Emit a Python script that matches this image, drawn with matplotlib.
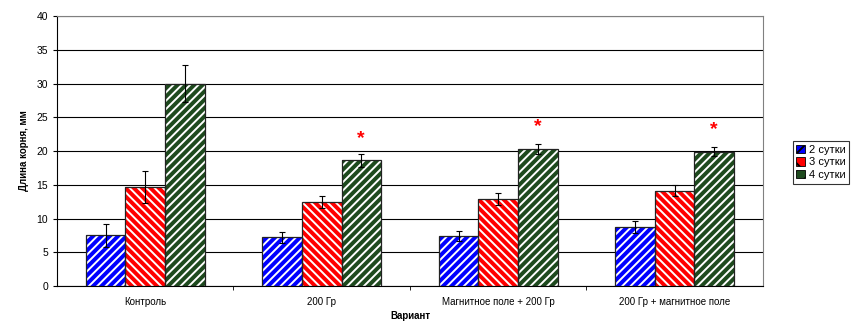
import matplotlib
matplotlib.use('Agg')
import matplotlib.pyplot as plt
import numpy as np

plt.rcParams['font.family'] = ['Liberation Sans', 'DejaVu Sans']
plt.rcParams['hatch.linewidth'] = 1.4

categories = ['Контроль', '200 Гр', 'Магнитное поле + 200 Гр', '200 Гр + магнитное поле']
series = ['2 сутки', '3 сутки', '4 сутки']
day2 = [7.5, 7.2, 7.4, 8.7]
day3 = [14.7, 12.5, 12.9, 14.1]
day4 = [30.0, 18.6, 20.3, 19.9]
err2 = [1.7, 0.8, 0.8, 0.9]
err3 = [2.4, 0.9, 0.9, 0.8]
err4 = [2.7, 0.9, 0.8, 0.7]
significant = [False, True, True, True]

colors = ['#0000ff', '#ff0000', '#1e4a1e']
hatches = ['////', '\\\\\\\\', '////']

fig = plt.figure(figsize=(8.52, 3.21), dpi=100)
ax = fig.add_axes([0.0669, 0.109, 0.8286, 0.841])

x = np.arange(len(categories))
w = 0.224
values = [day2, day3, day4]
errors = [err2, err3, err4]

for k in range(3):
    pos = x + (k - 1) * w
    # coloured face with white hatch, then a separate outline
    ax.bar(pos, values[k], w, facecolor=colors[k], edgecolor='white',
           hatch=hatches[k], linewidth=0, zorder=3)
    ax.bar(pos, values[k], w, fill=False, edgecolor='#222222',
           linewidth=0.9, zorder=4)
    ax.errorbar(pos, values[k], yerr=errors[k], fmt='none', ecolor='black',
                elinewidth=0.8, capsize=2.5, capthick=0.8, zorder=5)

for i, sig in enumerate(significant):
    if sig:
        ax.text(x[i] + w, day4[i] + 3.3, '*', color='red', fontsize=14,
                fontweight='bold', ha='center', va='center', zorder=6)

ax.set_xlim(-0.5, len(categories) - 0.5)
ax.set_ylim(0, 40)
ax.set_yticks(np.arange(0, 41, 5))
ax.yaxis.grid(True, color='black', linewidth=0.8, zorder=0)
ax.set_axisbelow(True)

ax.set_xticks(x)
ax.set_xticklabels(categories, fontsize=7)
ax.set_xticks(np.arange(0.5, len(categories) - 0.5, 1.0), minor=True)
ax.tick_params(axis='x', which='major', length=0, pad=8)
ax.tick_params(axis='x', which='minor', length=3, direction='out')
ax.tick_params(axis='y', labelsize=7.5, length=3, direction='out')

for side in ['left', 'bottom']:
    ax.spines[side].set_color('black')
    ax.spines[side].set_linewidth(0.8)
ax.spines['top'].set_color('#808080')
ax.spines['right'].set_color('#808080')

ax.set_ylabel('Длина корня, мм', fontsize=7, fontweight='bold', labelpad=5)
ax.set_xlabel('Вариант', fontsize=7, fontweight='bold', labelpad=2.5)

handles = [matplotlib.patches.Patch(facecolor=colors[k], edgecolor='black',
                                    hatch=hatches[k][:2], linewidth=0.6)
           for k in range(3)]
leg = fig.legend(handles, series, loc='upper left', bbox_to_anchor=(0.9237, 0.578),
                 fontsize=8, frameon=True, fancybox=False, handlelength=0.8,
                 handleheight=0.8, handletextpad=0.3, borderpad=0.35,
                 labelspacing=0.2, edgecolor='black', shadow=False)
leg.get_frame().set_linewidth(0.8)

fig.savefig('out.png', dpi=100)
